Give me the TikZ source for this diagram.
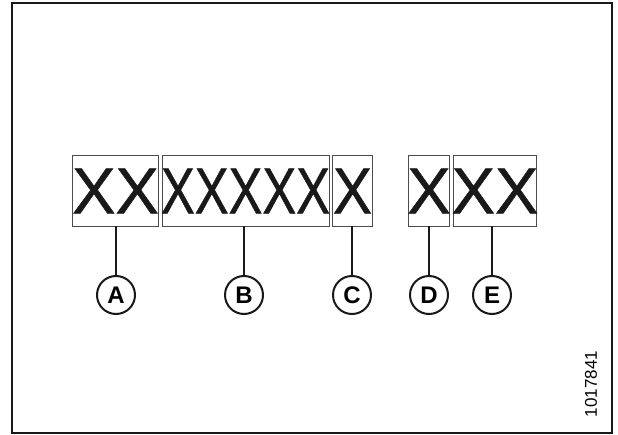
\documentclass[tikz,border=0pt]{standalone}
\usepackage{fontspec}
\setmainfont{Liberation Sans}
\newfontfamily\xfont[FakeBold=0.8]{Liberation Sans}
\begin{document}
\begin{tikzpicture}[x=1pt,y=-1pt,
  xbox/.style={draw=black!70,line width=0.9pt,inner sep=0pt,outer sep=0pt,minimum height=71pt,anchor=north west,
    font=\xfont\fontsize{65}{65}\selectfont,text=black!90},
  callout/.style={circle,draw=black!90,line width=2pt,minimum size=38pt,inner sep=0pt,
    font=\fontsize{24}{24}\selectfont\bfseries},
  stem/.style={draw=black!90,line width=2pt}]
\useasboundingbox (0,0) rectangle (618,435);
\draw[line width=2pt,draw=black!90] (12,3) rectangle (612,433);
\node[xbox,minimum width=86pt] (bA) at (72.5,155.5) {\makebox[0pt]{XX}};
\node[xbox,minimum width=167pt] (bB) at (162,155.5) {\makebox[0pt]{\scalebox{0.78}[1]{XXXXX}}};
\node[xbox,minimum width=40pt] (bC) at (332.5,155.5) {\makebox[0pt]{\scalebox{0.9}[1]{X}}};
\node[xbox,minimum width=41pt] (bD) at (408.5,155.5) {\makebox[0pt]{X}};
\node[xbox,minimum width=83pt] (bE) at (453.5,155.5) {\makebox[0pt]{XX}};
\node[callout] (cA) at (116,295) {A};
\node[callout] (cB) at (244,295) {B};
\node[callout] (cC) at (352,295) {C};
\node[callout] (cD) at (429,295) {D};
\node[callout] (cE) at (492,295) {E};
\draw[stem] (bA.south -| cA.north) -- (cA.north);
\draw[stem] (bB.south -| cB.north) -- (cB.north);
\draw[stem] (bC.south -| cC.north) -- (cC.north);
\draw[stem] (bD.south -| cD.north) -- (cD.north);
\draw[stem] (bE.south -| cE.north) -- (cE.north);
\node[rotate=90,font=\fontsize{17}{17}\selectfont,inner sep=0pt] (num) at (591,384) {1017841};
\end{tikzpicture}
\end{document}
